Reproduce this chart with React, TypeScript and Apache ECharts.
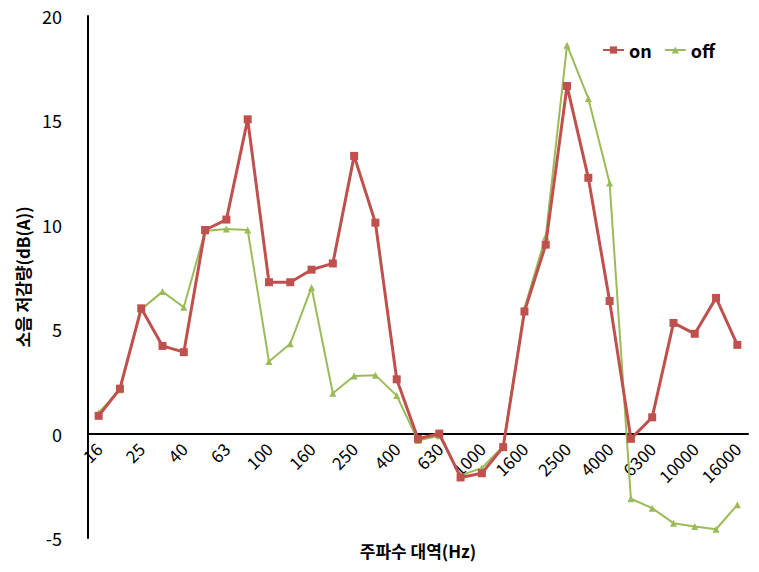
import React, { useEffect, useRef } from "react";
import * as echarts from "echarts";

const categories = [
  "16", "20", "25", "31.5", "40", "50", "63", "80", "100", "125", "160", "200",
  "250", "315", "400", "500", "630", "800", "1000", "1250", "1600", "2000",
  "2500", "3150", "4000", "5000", "6300", "8000", "10000", "12500", "16000",
];

const onValues = [
  0.85, 2.15, 6.0, 4.2, 3.9, 9.75, 10.25, 15.05, 7.25, 7.25, 7.85, 8.15,
  13.3, 10.1, 2.6, -0.25, 0.0, -2.1, -1.9, -0.65, 5.85, 9.05,
  16.65, 12.25, 6.35, -0.25, 0.78, 5.3, 4.78, 6.5, 4.25,
];

const offValues = [
  1.0, 2.1, 5.95, 6.8, 6.05, 9.7, 9.8, 9.75, 3.45, 4.3, 7.0, 1.93,
  2.76, 2.8, 1.82, -0.33, -0.1, -2.0, -1.65, -0.6, 6.0, 9.45,
  18.6, 16.05, 12.0, -3.12, -3.57, -4.29, -4.45, -4.58, -3.41,
];

const yTicks = { min: -5, max: 20, interval: 5 };

const FONT = "'Noto Sans CJK KR', 'Noto Sans', sans-serif";

const GRID_TOP = 16;
const GRID_BOTTOM = 34;
const CHART_H = 572;

export default function App() {
  const ref = useRef<HTMLDivElement>(null);

  useEffect(() => {
    if (!ref.current) return;
    const chart = echarts.init(ref.current, null, { renderer: "svg" });
    // distance from the grid's bottom edge up to the value 0
    const plotH = CHART_H - GRID_TOP - GRID_BOTTOM;
    const zeroOffset = (plotH * (0 - yTicks.min)) / (yTicks.max - yTicks.min);
    chart.setOption({
      animation: false,
      backgroundColor: "#ffffff",
      textStyle: { fontFamily: FONT },
      grid: {
        left: 88,
        right: 11,
        top: GRID_TOP,
        bottom: GRID_BOTTOM,
        containLabel: false,
        outerBoundsMode: "none",
      },
      legend: {
        left: 597,
        top: 36,
        itemWidth: 21,
        itemHeight: 9,
        itemGap: 12,
        textStyle: { fontFamily: FONT, fontSize: 18, fontWeight: "bold", color: "#000" },
        data: ["on", "off"],
      },
      xAxis: {
        type: "category",
        data: categories,
        boundaryGap: true,
        offset: -zeroOffset,
        axisLine: { onZero: false, lineStyle: { color: "#000", width: 2 } },
        axisTick: { show: false },
        axisLabel: {
          interval: 1,
          rotate: 45,
          margin: 12,
          fontSize: 17,
          fontFamily: FONT,
          color: "#000",
        },
        name: "주파수 대역(Hz)",
        nameLocation: "middle",
        nameGap: 108,
        nameTextStyle: { fontFamily: FONT, fontSize: 17, fontWeight: "bold", color: "#000" },
        splitLine: { show: false },
      },
      yAxis: {
        type: "value",
        min: yTicks.min,
        max: yTicks.max,
        interval: yTicks.interval,
        axisLine: { show: true, lineStyle: { color: "#000", width: 2 } },
        axisTick: { show: false },
        splitLine: { show: false },
        axisLabel: { fontSize: 18, fontFamily: FONT, color: "#000", margin: 26 },
        name: "소음 저감량(dB(A))",
        nameLocation: "middle",
        nameGap: 55,
        nameRotate: 90,
        nameTextStyle: { fontFamily: FONT, fontSize: 17, fontWeight: "bold", color: "#000" },
      },
      series: [
        {
          name: "on",
          type: "line",
          data: onValues,
          symbol: "rect",
          symbolSize: 8,
          z: 3,
          lineStyle: { color: "#C0504D", width: 3 },
          itemStyle: { color: "#C0504D" },
        },
        {
          name: "off",
          type: "line",
          data: offValues,
          symbol: "triangle",
          symbolSize: 7,
          z: 2,
          lineStyle: { color: "#9BBB59", width: 2 },
          itemStyle: { color: "#9BBB59" },
        },
      ],
    });
    return () => chart.dispose();
  }, []);

  return <div ref={ref} style={{ width: 759, height: 572, margin: -8 }} />;
}
